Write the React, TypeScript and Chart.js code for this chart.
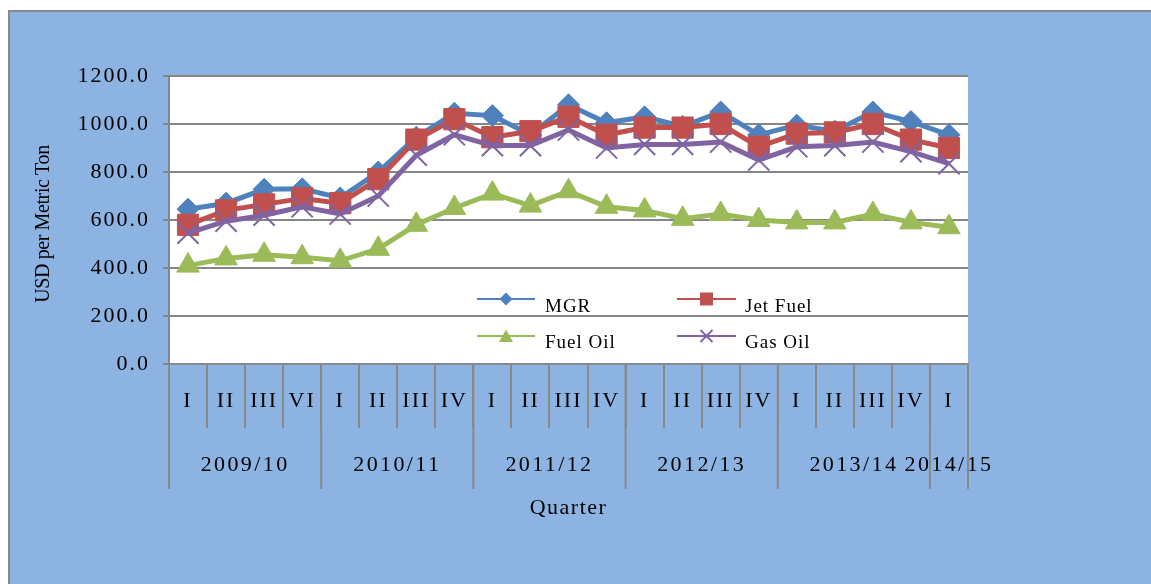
import React, { useEffect, useRef } from 'react';
import { Chart, registerables } from 'chart.js';

Chart.register(...registerables);

// ---- data ----
const quarters = ['I', 'II', 'III', 'VI', 'I', 'II', 'III', 'IV', 'I', 'II', 'III', 'IV', 'I', 'II', 'III', 'IV', 'I', 'II', 'III', 'IV', 'I'];
const years = ['2009/10', '2010/11', '2011/12', '2012/13', '2013/14', '2014/15'];
const yearSpans = [4, 4, 4, 4, 4, 1];

const mgr = [645, 670, 728, 730, 692, 800, 945, 1045, 1035, 955, 1080, 1005, 1030, 990, 1050, 955, 995, 970, 1050, 1010, 955];
const jetFuel = [580, 640, 665, 690, 670, 770, 935, 1020, 945, 970, 1030, 955, 985, 985, 1000, 905, 960, 965, 1000, 935, 900];
const fuelOil = [410, 440, 455, 445, 430, 480, 580, 650, 710, 660, 720, 655, 640, 605, 625, 600, 590, 590, 625, 590, 570];
const gasOil = [545, 595, 620, 655, 625, 700, 870, 955, 910, 910, 975, 900, 915, 915, 925, 850, 905, 910, 925, 885, 835];

const seriesNames = ['MGR', 'Jet Fuel', 'Fuel Oil', 'Gas Oil'];
const yAxisTitle = 'USD per Metric Ton';
const xAxisTitle = 'Quarter';

const SERIF = "'Liberation Serif', 'Times New Roman', serif";
const C_MGR = '#4F81BD';
const C_JET = '#C0504D';
const C_FUEL = '#9BBB59';
const C_GAS = '#8064A2';
const AXIS_GRAY = '#898989';

function drawMarker(ctx: CanvasRenderingContext2D, kind: string, x: number, y: number, color: string) {
  ctx.save();
  ctx.fillStyle = color;
  ctx.strokeStyle = color;
  ctx.beginPath();
  if (kind === 'diamond') {
    const r = 6.5;
    ctx.moveTo(x, y - r);
    ctx.lineTo(x + r, y);
    ctx.lineTo(x, y + r);
    ctx.lineTo(x - r, y);
    ctx.closePath();
    ctx.fill();
  } else if (kind === 'square') {
    ctx.rect(x - 6.5, y - 6.5, 13, 13);
    ctx.fill();
  } else if (kind === 'triangle') {
    ctx.moveTo(x, y - 6.5);
    ctx.lineTo(x + 7, y + 6);
    ctx.lineTo(x - 7, y + 6);
    ctx.closePath();
    ctx.fill();
  } else {
    const r = 6;
    ctx.lineWidth = 2;
    ctx.moveTo(x - r, y - r);
    ctx.lineTo(x + r, y + r);
    ctx.moveTo(x + r, y - r);
    ctx.lineTo(x - r, y + r);
    ctx.stroke();
  }
  ctx.restore();
}

const decor = {
  id: 'decor',
  beforeDraw(chart: any) {
    const { ctx, width, height, chartArea: a } = chart;
    ctx.save();
    ctx.letterSpacing = '0px';
    ctx.fillStyle = '#ffffff';
    ctx.fillRect(0, 0, width, height);
    ctx.fillStyle = '#8DB3E2';
    ctx.fillRect(8, 10, width, height);
    ctx.strokeStyle = '#8a8a8a';
    ctx.lineWidth = 2;
    ctx.beginPath();
    ctx.moveTo(9, height + 5);
    ctx.lineTo(9, 11);
    ctx.lineTo(width + 5, 11);
    ctx.stroke();
    ctx.fillStyle = '#ffffff';
    ctx.fillRect(a.left, a.top, a.right - a.left, a.bottom - a.top);
    ctx.restore();
    (ctx as any).letterSpacing = '2px';
  },
  afterDraw(chart: any) {
    const { ctx, chartArea: a, scales } = chart;
    const xs = scales.x;
    const half = (xs.getPixelForValue(1) - xs.getPixelForValue(0)) / 2;
    ctx.save();
    // year group separators and labels
    ctx.strokeStyle = AXIS_GRAY;
    ctx.lineWidth = 2;
    ctx.fillStyle = '#000';
    ctx.font = `22px ${SERIF}`;
    ctx.textAlign = 'center';
    ctx.textBaseline = 'middle';
    (ctx as any).letterSpacing = '2.4px';
    let start = 0;
    const edgeAt = (i: number) => xs.getPixelForValue(i) - half;
    ctx.beginPath();
    ctx.moveTo(edgeAt(0), a.bottom);
    ctx.lineTo(edgeAt(0), 489);
    for (let g = 0; g < years.length; g++) {
      const end = start + yearSpans[g];
      const x0 = edgeAt(start);
      const x1 = edgeAt(end);
      ctx.moveTo(x1, a.bottom);
      ctx.lineTo(x1, 489);
      ctx.fillText(years[g], (x0 + x1) / 2, 465);
      start = end;
    }
    ctx.stroke();

    // x axis title
    (ctx as any).letterSpacing = '1.5px';
    ctx.fillText(xAxisTitle, (a.left + a.right) / 2, 508);

    // y axis title
    ctx.save();
    ctx.translate(44, 224);
    ctx.rotate(-Math.PI / 2);
    ctx.font = `20px ${SERIF}`;
    (ctx as any).letterSpacing = '-0.4px';
    ctx.fillText(yAxisTitle, 0, 0);
    ctx.restore();

    // legend
    const items = [
      { name: seriesNames[0], color: C_MGR, kind: 'diamond', lx: 477, rx: 535, tx: 545, y: 299, base: 311.5 },
      { name: seriesNames[1], color: C_JET, kind: 'square', lx: 677, rx: 736, tx: 745, y: 299, base: 311.5 },
      { name: seriesNames[2], color: C_FUEL, kind: 'triangle', lx: 477, rx: 535, tx: 545, y: 336, base: 348 },
      { name: seriesNames[3], color: C_GAS, kind: 'cross', lx: 677, rx: 736, tx: 745, y: 336, base: 348 },
    ];
    ctx.font = `19px ${SERIF}`;
    ctx.textAlign = 'left';
    ctx.textBaseline = 'alphabetic';
    (ctx as any).letterSpacing = '1px';
    for (const it of items) {
      ctx.strokeStyle = it.color;
      ctx.lineWidth = 2;
      ctx.beginPath();
      ctx.moveTo(it.lx, it.y);
      ctx.lineTo(it.rx, it.y);
      ctx.stroke();
      drawMarker(ctx, it.kind, (it.lx + it.rx) / 2, it.y, it.color);
      ctx.fillStyle = '#000';
      ctx.fillText(it.name, it.tx, it.base);
    }
    ctx.restore();
  },
};

export default function App() {
  const ref = useRef<HTMLCanvasElement>(null);

  useEffect(() => {
    if (!ref.current) return;
    const chart = new Chart(ref.current, {
      type: 'line',
      data: {
        labels: quarters,
        datasets: [
          {
            label: seriesNames[0],
            data: mgr,
            borderColor: C_MGR,
            backgroundColor: C_MGR,
            pointBackgroundColor: C_MGR,
            pointBorderColor: C_MGR,
            borderWidth: 5,
            pointStyle: 'rectRot',
            pointRadius: 11,
            pointBorderWidth: 1,
            order: 3,
          },
          {
            label: seriesNames[1],
            data: jetFuel,
            borderColor: C_JET,
            backgroundColor: C_JET,
            pointBackgroundColor: C_JET,
            pointBorderColor: C_JET,
            borderWidth: 5,
            pointStyle: 'rect',
            pointRadius: 15,
            pointBorderWidth: 1,
            order: 2,
          },
          {
            label: seriesNames[2],
            data: fuelOil,
            borderColor: C_FUEL,
            backgroundColor: C_FUEL,
            pointBackgroundColor: C_FUEL,
            pointBorderColor: C_FUEL,
            borderWidth: 5,
            pointStyle: 'triangle',
            pointRadius: 13,
            pointBorderWidth: 1,
            order: 1,
          },
          {
            label: seriesNames[3],
            data: gasOil,
            borderColor: C_GAS,
            backgroundColor: C_GAS,
            pointBackgroundColor: C_GAS,
            pointBorderColor: C_GAS,
            borderWidth: 5,
            pointStyle: 'crossRot',
            pointRadius: 15,
            pointBorderWidth: 2,
            order: 0,
          },
        ],
      },
      options: {
        responsive: true,
        maintainAspectRatio: false,
        animation: false,
        devicePixelRatio: 1,
        layout: { padding: { left: 0, top: 76, right: 183, bottom: 0 } },
        plugins: {
          legend: { display: false },
          tooltip: { enabled: false },
          title: { display: false },
        },
        events: [],
        scales: {
          x: {
            type: 'category',
            offset: true,
            grid: {
              offset: true,
              drawOnChartArea: false,
              drawTicks: true,
              tickLength: 64,
              color: AXIS_GRAY,
              lineWidth: 2,
            },
            border: { display: true, color: AXIS_GRAY, width: 2 },
            ticks: {
              autoSkip: false,
              maxRotation: 0,
              minRotation: 0,
              padding: -40,
              color: '#000',
              font: { family: SERIF, size: 22 },
            },
            afterFit: (s: any) => {
              s.height = 220;
            },
          },
          y: {
            min: 0,
            max: 1200,
            ticks: {
              stepSize: 200,
              padding: 13,
              color: '#000',
              font: { family: SERIF, size: 22 },
              callback: (v: any) => Number(v).toFixed(1),
            },
            grid: { color: '#868686', lineWidth: 2, tickLength: 6, drawTicks: true },
            border: { display: true, color: '#868686', width: 2 },
            afterFit: (s: any) => {
              s.width = 169;
            },
          },
        },
      },
      plugins: [decor],
    });
    return () => chart.destroy();
  }, []);

  return (
    <div style={{ position: 'fixed', left: 0, top: 0, width: 1151, height: 584 }}>
      <canvas ref={ref} />
    </div>
  );
}
